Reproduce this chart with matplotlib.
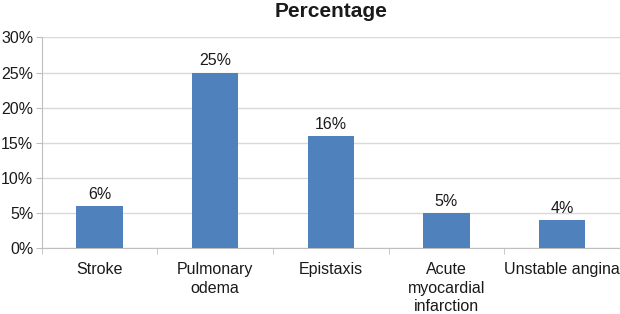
import matplotlib.pyplot as plt
from matplotlib.ticker import FuncFormatter

# Complications data
categories = ["Stroke", "Pulmonary\nodema", "Epistaxis", "Acute\nmyocardial\ninfarction", "Unstable angina"]
percentages = [6, 25, 16, 5, 4]
y_ticks = [0, 5, 10, 15, 20, 25, 30]

plt.rcParams['font.family'] = ['Liberation Sans', 'DejaVu Sans']

fig = plt.figure(figsize=(6.2, 3.14), dpi=100)
ax = fig.add_axes([0.067, 0.209, 0.933, 0.672])

x = list(range(len(categories)))
bars = ax.bar(x, percentages, width=0.4, color="#4F81BD", zorder=3)

for xi, v in zip(x, percentages):
    ax.text(xi, v + 0.6, f"{v}%", ha="center", va="bottom", fontsize=11.5, color="#1a1a1a")

ax.set_xlim(-0.5, len(categories) - 0.5)
ax.set_ylim(0, 30)
ax.set_yticks(y_ticks)
ax.yaxis.set_major_formatter(FuncFormatter(lambda v, p: f"{int(v)}%"))
ax.yaxis.grid(True, color="#D9D9D9", linewidth=1, zorder=0)

ax.set_xticks(x)
ax.set_xticklabels(categories, fontsize=11.5, color="#1a1a1a", linespacing=1.28)
ax.tick_params(axis="x", length=0, pad=10)
# boundary tick marks between categories
ax.set_xticks([i - 0.5 for i in range(len(categories) + 1)], minor=True)
ax.tick_params(axis="x", which="minor", length=4, color="#BFBFBF", direction="out")
ax.tick_params(axis="y", length=4, color="#BFBFBF", labelsize=11.5, labelcolor="#1a1a1a", pad=2)

for s in ["top", "right"]:
    ax.spines[s].set_visible(False)
ax.spines["left"].set_color("#BFBFBF")
ax.spines["bottom"].set_color("#BFBFBF")

fig.text(0.534, 0.962, "Percentage", ha="center", va="center", fontsize=15, fontweight="bold", color="#1a1a1a")

plt.savefig("out.png", dpi=100)
